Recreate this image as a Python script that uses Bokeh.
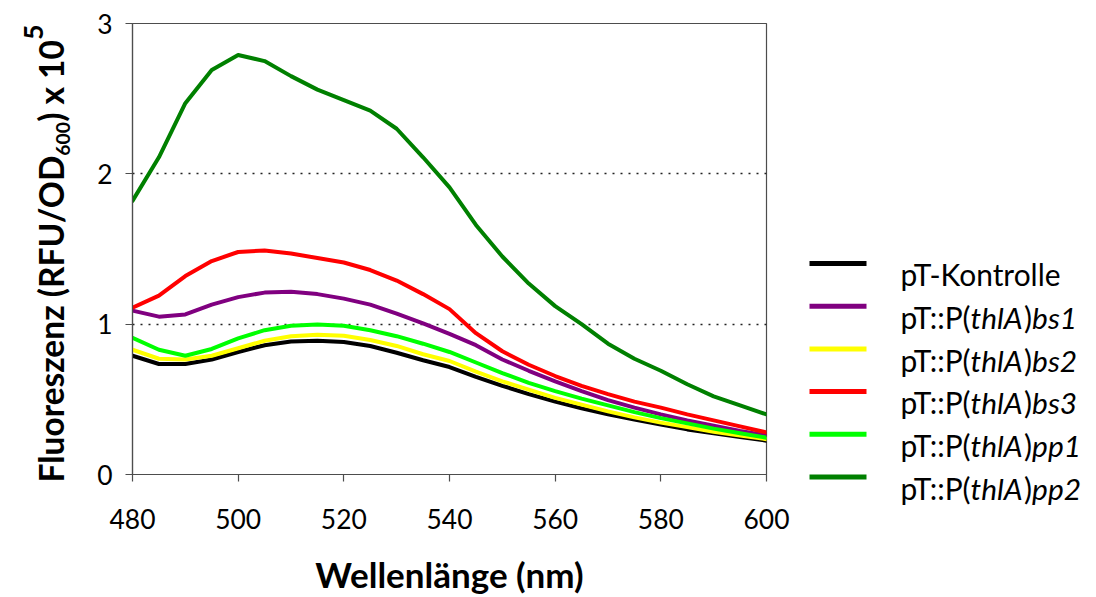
import os
import glob
import subprocess
import numpy as np
from bokeh.plotting import figure
from bokeh.layouts import row
from bokeh.models import Range1d, FixedTicker, ColumnDataSource
from bokeh.core.properties import value
from bokeh.embed import file_html
from bokeh.resources import INLINE

# ---------------- data ----------------
wavelength = [480, 485, 490, 495, 500, 505, 510, 515, 520, 525, 530, 535, 540,
              545, 550, 555, 560, 565, 570, 575, 580, 585, 590, 595, 600]

kontrolle = [0.79, 0.735, 0.735, 0.765, 0.815, 0.86, 0.885, 0.89, 0.882, 0.855, 0.81, 0.76, 0.715,
             0.65, 0.59, 0.535, 0.485, 0.44, 0.40, 0.365, 0.333, 0.30, 0.275, 0.25, 0.225]
bs1 = [1.09, 1.05, 1.065, 1.13, 1.18, 1.21, 1.215, 1.20, 1.17, 1.13, 1.07, 1.005, 0.935,
       0.86, 0.765, 0.69, 0.62, 0.555, 0.495, 0.445, 0.40, 0.36, 0.325, 0.29, 0.26]
bs2 = [0.83, 0.77, 0.765, 0.79, 0.84, 0.89, 0.92, 0.93, 0.923, 0.895, 0.855, 0.80, 0.755,
       0.685, 0.62, 0.565, 0.51, 0.465, 0.42, 0.38, 0.345, 0.315, 0.285, 0.26, 0.235]
bs3 = [1.11, 1.19, 1.32, 1.42, 1.48, 1.49, 1.47, 1.44, 1.41, 1.36, 1.29, 1.20, 1.10,
       0.94, 0.82, 0.73, 0.655, 0.59, 0.535, 0.485, 0.445, 0.40, 0.36, 0.32, 0.28]
pp1 = [0.91, 0.83, 0.79, 0.835, 0.905, 0.96, 0.99, 0.998, 0.99, 0.96, 0.92, 0.87, 0.815,
       0.745, 0.675, 0.61, 0.555, 0.505, 0.46, 0.415, 0.375, 0.34, 0.305, 0.275, 0.245]
pp2 = [1.82, 2.11, 2.47, 2.69, 2.79, 2.75, 2.65, 2.56, 2.49, 2.42, 2.30, 2.11, 1.91,
       1.66, 1.45, 1.27, 1.12, 1.00, 0.87, 0.77, 0.69, 0.60, 0.52, 0.46, 0.40]

series = [kontrolle, bs1, bs2, bs3, pp1, pp2]
colors = ["#000000", "#800080", "#FFFF00", "#FF0000", "#00FF00", "#008000"]
legend_parts = [
    [("pT-Kontrolle", False)],
    [("pT::P(", False), ("thlA", True), (")", False), ("bs1", True)],
    [("pT::P(", False), ("thlA", True), (")", False), ("bs2", True)],
    [("pT::P(", False), ("thlA", True), (")", False), ("bs3", True)],
    [("pT::P(", False), ("thlA", True), (")", False), ("pp1", True)],
    [("pT::P(", False), ("thlA", True), (")", False), ("pp2", True)],
]
x_ticks = [480, 500, 520, 540, 560, 580, 600]
y_ticks = [0, 1, 2, 3]
x_title = "Wellenlänge (nm)"
y_title_parts = [("Fluoreszenz (RFU/OD", "main"), ("600", "sub"), (") x 10", "main"), ("5", "sup")]

FONT = "Lato"

# ---------------- text metrics helper ----------------
def find_font(style):
    q = {"regular": "Lato:style=Regular", "bold": "Lato:style=Bold", "italic": "Lato:style=Italic"}[style]
    names = {"regular": ["Lato-Regular.ttf"], "bold": ["Lato-Bold.ttf"], "italic": ["Lato-Italic.ttf"]}[style]
    try:
        out = subprocess.run(["fc-match", "-f", "%{file}", q], capture_output=True,
                             text=True, timeout=10).stdout.strip()
        if out and "lato" in out.lower() and os.path.exists(out):
            return out
    except Exception:
        pass
    for root in ["/usr/share/fonts", "/usr/local/share/fonts",
                 os.path.expanduser("~/.fonts"), os.path.expanduser("~/.local/share/fonts")]:
        for n in names:
            hits = glob.glob(os.path.join(root, "**", n), recursive=True)
            if hits:
                return hits[0]
    return None

_font_files = {s: find_font(s) for s in ("regular", "bold", "italic")}
try:
    from PIL import ImageFont
except Exception:
    ImageFont = None

def text_w(text, style, size):
    f = _font_files.get(style)
    if ImageFont is not None and f:
        try:
            return ImageFont.truetype(f, 200).getlength(text) * size / 200.0
        except Exception:
            pass
    return 0.56 * size * len(text)

def fit(text, style, width):
    return width / text_w(text, style, 1.0)

# canvas geometry (whole page 1096 x 597)
W, H = 1096, 597
L, R, T, B = 132, 766, 23, 479
LEFT_W = 80          # strip holding the rotated y title
LEG_X0 = 790         # legend strip starts here

tick_size = fit("480", "regular", 46)
legend_size = fit("pT-Kontrolle", "regular", 160)
xlab_size = fit(x_title, "bold", 268)
unit_len = (text_w(y_title_parts[0][0], "bold", 1) + text_w("600", "bold", 0.58)
            + text_w(y_title_parts[2][0], "bold", 1) + text_w("5", "bold", 0.8))
ylab_size = 458 / unit_len

def no_frame_align(f):
    try:
        f.frame_align = False
    except Exception:
        pass

# ---------------- main chart ----------------
p = figure(width=LEG_X0 - LEFT_W, height=H, output_backend="svg", toolbar_location=None, title=None,
           x_range=Range1d(480, 600), y_range=Range1d(0, 3),
           min_border_left=L - LEFT_W, min_border_right=LEG_X0 - R, min_border_top=T,
           min_border_bottom=H - B)
no_frame_align(p)
p.background_fill_color = "white"
p.border_fill_color = "white"
p.outline_line_color = "#4d4d4d"
p.outline_line_width = 1.2

p.xaxis.ticker = FixedTicker(ticks=x_ticks)
p.yaxis.ticker = FixedTicker(ticks=y_ticks)
for ax in (p.xaxis[0], p.yaxis[0]):
    ax.axis_line_color = "#4d4d4d"
    ax.axis_line_width = 1.2
    ax.major_tick_line_color = "#4d4d4d"
    ax.major_tick_line_width = 1.2
    ax.major_tick_out = 7
    ax.major_tick_in = 0
    ax.minor_tick_line_color = None
    ax.major_label_text_font = FONT
    ax.major_label_text_font_size = f"{tick_size:.1f}px"
    ax.major_label_text_color = "black"
p.yaxis.major_label_standoff = 13
p.xaxis.major_label_standoff = 27

p.xaxis.axis_label = x_title
p.xaxis.axis_label_text_font = FONT
p.xaxis.axis_label_text_font_style = "bold"
p.xaxis.axis_label_text_font_size = f"{xlab_size:.1f}px"
p.xaxis.axis_label_text_color = "black"
p.xaxis.axis_label_standoff = 21

p.xgrid.visible = False
p.ygrid.ticker = FixedTicker(ticks=[1, 2])
p.ygrid.grid_line_color = "#222222"
p.ygrid.grid_line_dash = "2 6"
p.ygrid.grid_line_width = 1.6

for ys, c in zip(series, colors):
    p.line(wavelength, ys, line_color=c, line_width=4, line_join="round", line_cap="round")

# ---------------- helper strips (pixel coordinates, y downwards) ----------------
def strip(x0, x1):
    f = figure(width=x1 - x0, height=H, output_backend="svg", toolbar_location=None, title=None,
               x_range=Range1d(x0, x1), y_range=Range1d(H, 0),
               x_axis_location=None, y_axis_location=None,
               min_border=0, min_border_left=0, min_border_right=0,
               min_border_top=0, min_border_bottom=0)
    no_frame_align(f)
    f.outline_line_color = None
    f.grid.visible = False
    f.background_fill_color = "white"
    f.border_fill_color = "white"
    return f

# legend strip
leg = strip(LEG_X0, W)
row0, row_step = 263, 42.7
sw = dict(x0=[], x1=[], y=[], c=[])
for i, (parts, c) in enumerate(zip(legend_parts, colors)):
    yc = row0 + i * row_step
    sw["x0"].append(809)
    sw["x1"].append(866)
    sw["y"].append(yc)
    sw["c"].append(c)
    xcur = 900.0
    base = yc + 0.36 * legend_size
    for txt, ital in parts:
        style = "italic" if ital else "regular"
        leg.text(x=[xcur], y=[base], text=[txt], text_font=value(FONT),
                 text_font_style=value("italic" if ital else "normal"),
                 text_font_size=value(f"{legend_size:.1f}px"), text_color="black",
                 text_align="left", text_baseline="alphabetic")
        xcur += text_w(txt, style, legend_size) + (1.5 if ital else 0)
src = ColumnDataSource(sw)
leg.segment(x0="x0", y0="y", x1="x1", y1="y", line_color="c", line_width=5,
            line_cap="butt", source=src)

# y-title strip (rotated text with sub/superscript)
yst = strip(0, LEFT_W)
base_x = 50.0
ycur = 482.0
for txt, kind in y_title_parts:
    if kind == "main":
        size, xb = ylab_size, base_x
    elif kind == "sub":
        size = 0.58 * ylab_size
        xb = base_x + 0.38 * ylab_size
    else:
        size = 0.8 * ylab_size
        xb = base_x - 0.52 * ylab_size
    yst.text(x=[xb], y=[ycur], text=[txt], text_font=value(FONT), text_font_style=value("bold"),
             text_font_size=value(f"{size:.1f}px"), text_color="black",
             angle=np.pi / 2, text_align="left", text_baseline="alphabetic")
    ycur -= text_w(txt, "bold", size)

layout = row(yst, p, leg, spacing=0)
open("out.html", "w").write(file_html(layout, INLINE))
